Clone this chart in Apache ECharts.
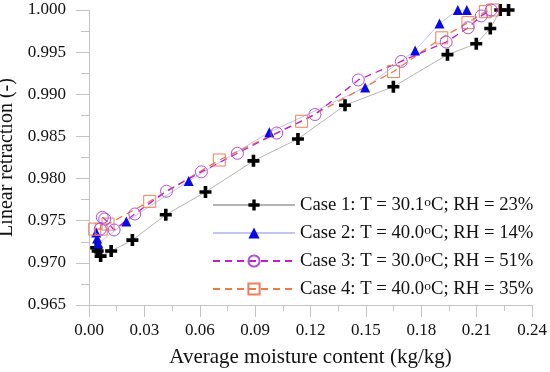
<!DOCTYPE html>
<html>
<head>
<meta charset="utf-8">
<script src="https://cdn.jsdelivr.net/npm/echarts@6/dist/echarts.min.js"></script>
<style>
html,body{margin:0;padding:0;background:#fff;}
#chart{width:550px;height:372px;}
</style>
</head>
<body>
<div id="chart"></div>
<script>
// ---- Data ----
const xTicks = [0.00, 0.03, 0.06, 0.09, 0.12, 0.15, 0.18, 0.21, 0.24];
const yTicks = [0.965, 0.970, 0.975, 0.980, 0.985, 0.990, 0.995, 1.000];

const case1Names = ['Case 1: T = 30.1', 'C; RH = 23%'];
const case2Names = ['Case 2: T = 40.0', 'C; RH = 14%'];
const case3Names = ['Case 3: T = 30.0', 'C; RH = 51%'];
const case4Names = ['Case 4: T = 40.0', 'C; RH = 35%'];

const case1X = [0.0039, 0.0047, 0.0063, 0.0120, 0.0235, 0.0416, 0.0631, 0.0891, 0.1132, 0.1387, 0.1649, 0.1942, 0.2098, 0.2174, 0.2228, 0.2273];
const case1Y = [0.9718, 0.9714, 0.9708, 0.9714, 0.9727, 0.9757, 0.9784, 0.9821, 0.9847, 0.9887, 0.9909, 0.9947, 0.9960, 0.9978, 1.0000, 1.0000];

const case2X = [0.0039, 0.0044, 0.0050, 0.0202, 0.0540, 0.0977, 0.1496, 0.1767, 0.1899, 0.1998, 0.2047];
const case2Y = [0.9736, 0.9729, 0.9723, 0.9749, 0.9797, 0.9855, 0.9908, 0.9952, 0.9984, 1.0000, 1.0000];

const case3X = [0.0061, 0.0072, 0.0085, 0.0136, 0.0248, 0.0420, 0.0609, 0.0804, 0.1017, 0.1224, 0.1459, 0.1692, 0.1935, 0.2054, 0.2125, 0.2179];
const case3Y = [0.9740, 0.9754, 0.9752, 0.9739, 0.9758, 0.9785, 0.9808, 0.9830, 0.9854, 0.9876, 0.9917, 0.9939, 0.9962, 0.9979, 0.9993, 1.0000];

const case4X = [0.0031, 0.0066, 0.0103, 0.0329, 0.0706, 0.1152, 0.1650, 0.1911, 0.2053, 0.2147, 0.2187];
const case4Y = [0.9740, 0.9740, 0.9746, 0.9773, 0.9822, 0.9868, 0.9927, 0.9967, 0.9985, 0.9998, 1.0000];

const xTitle = 'Average moisture content (kg/kg)';
const yTitle = 'Linear retraction (-)';

// ---- Build ----
const FONT = '"Liberation Serif", "Times New Roman", serif';
const pairs = (xs, ys) => xs.map((x, i) => [x, ys[i]]);
const nameOf = (n) => n[0] + 'o' + n[1];
const crossPath = 'path://M3.5,0h3v3.5h3.5v3h-3.5v3.5h-3v-3.5h-3.5v-3h3.5z';

const chart = echarts.init(document.getElementById('chart'), null, {renderer: 'canvas'});
const axisGray = '#c4c4c4';

const option = {
  animation: false,
  backgroundColor: '#fff',
  grid: {left: 89, right: 18, top: 10, bottom: 67, containLabel: false, outerBoundsMode: 'none'},
  xAxis: {
    type: 'value',
    min: xTicks[0], max: xTicks[xTicks.length - 1], interval: 0.03,
    name: xTitle, nameLocation: 'middle', nameGap: 42,
    nameTextStyle: {fontFamily: FONT, fontSize: 21, color: '#111'},
    axisLine: {show: true, lineStyle: {color: axisGray, width: 1}},
    axisTick: {show: true, inside: false, length: 12, lineStyle: {color: axisGray}},
    minorTick: {show: true, splitNumber: 2, length: 6, lineStyle: {color: axisGray}},
    splitLine: {show: false},
    axisLabel: {fontFamily: FONT, fontSize: 17, color: '#111', margin: 17,
      formatter: v => v.toFixed(2)}
  },
  yAxis: {
    type: 'value',
    min: yTicks[0], max: yTicks[yTicks.length - 1], interval: 0.005,
    name: yTitle, nameLocation: 'middle', nameGap: 66, nameRotate: 90,
    nameTextStyle: {fontFamily: FONT, fontSize: 20, color: '#111'},
    axisLine: {show: true, lineStyle: {color: axisGray, width: 1}},
    axisTick: {show: true, inside: false, length: 13, lineStyle: {color: axisGray}},
    minorTick: {show: true, splitNumber: 2, length: 8, lineStyle: {color: axisGray}},
    splitLine: {show: false},
    axisLabel: {fontFamily: FONT, fontSize: 17, color: '#111', margin: 23,
      formatter: v => v.toFixed(3)}
  },
  legend: {
    orient: 'vertical',
    left: 212, top: 195, padding: 0,
    itemWidth: 82, itemHeight: 14, itemGap: 8,
    data: [nameOf(case1Names), nameOf(case2Names), nameOf(case3Names), nameOf(case4Names)],
    formatter: function (name) {
      const i = name.lastIndexOf('oC');
      return '{a|' + name.slice(0, i) + '}{s|o}{a|' + name.slice(i + 1) + '}';
    },
    textStyle: {
      fontFamily: FONT, fontSize: 18.7, color: '#111', lineHeight: 20,
      rich: {
        a: {fontFamily: FONT, fontSize: 18.7, color: '#111', lineHeight: 20},
        s: {fontFamily: FONT, fontSize: 13.5, color: '#111', lineHeight: 20, padding: [0, 0, 5, 0]}
      }
    }
  },
  series: [
    {
      name: nameOf(case1Names), type: 'line', data: pairs(case1X, case1Y),
      symbol: crossPath, symbolSize: 12,
      itemStyle: {color: '#000'},
      lineStyle: {color: '#b4b4b4', width: 1}
    },
    {
      name: nameOf(case2Names), type: 'line', data: pairs(case2X, case2Y),
      symbol: 'triangle', symbolSize: 10,
      itemStyle: {color: '#0a0ae6'},
      lineStyle: {color: '#c4c4f2', width: 1}
    },
    {
      name: nameOf(case4Names), type: 'line', data: pairs(case4X, case4Y),
      symbol: 'rect', symbolSize: 12,
      itemStyle: {color: 'rgba(255,255,255,0)', borderColor: '#ef7f5a', borderWidth: 1},
      lineStyle: {color: '#ef7a45', width: 1.3, type: [7, 5]}
    },
    {
      name: nameOf(case3Names), type: 'line', data: pairs(case3X, case3Y),
      symbol: 'circle', symbolSize: 12,
      itemStyle: {color: 'rgba(255,255,255,0)', borderColor: '#b24fe0', borderWidth: 1},
      lineStyle: {color: '#c21fc8', width: 1.3, type: [7, 5]}
    }
  ]
};
chart.setOption(option);
</script>
</body>
</html>
